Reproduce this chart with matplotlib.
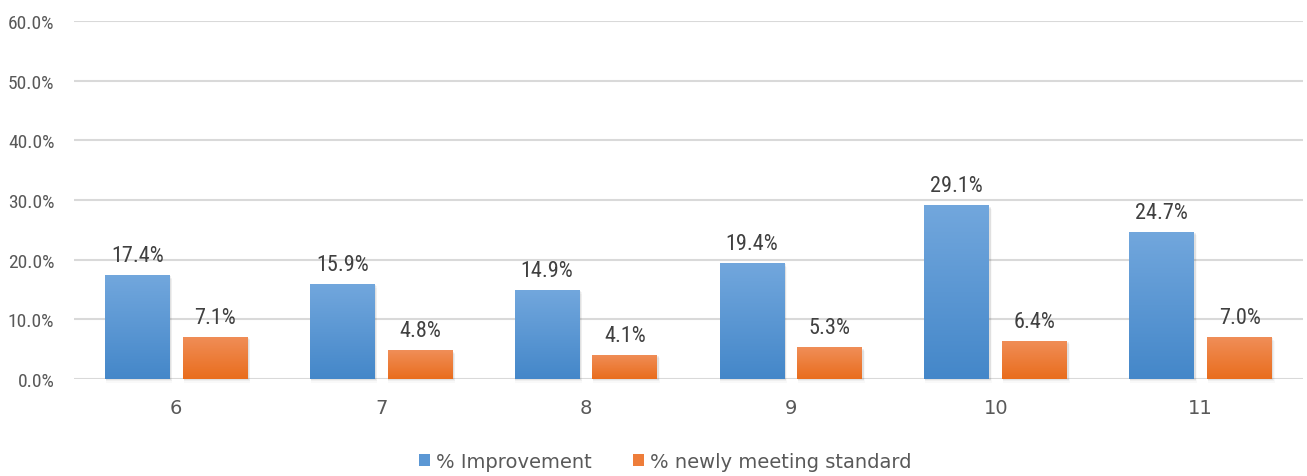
import numpy as np
import matplotlib
matplotlib.use('Agg')
import matplotlib.pyplot as plt
from matplotlib import font_manager
from matplotlib.colors import LinearSegmentedColormap
from matplotlib.patches import Rectangle
from matplotlib.ticker import FuncFormatter

grades = ["6", "7", "8", "9", "10", "11"]
improvement = [17.4, 15.9, 14.9, 19.4, 29.1, 24.7]
newly_meeting = [7.1, 4.8, 4.1, 5.3, 6.4, 7.0]
series_names = ["% Improvement", "% newly meeting standard"]

# narrow face for numbers, if one is installed
installed = {f.name for f in font_manager.fontManager.ttflist}
narrow = "DejaVu Sans"
for cand in ["Liberation Sans Narrow", "Roboto Condensed", "Open Sans Condensed", "DejaVu Sans Condensed"]:
    if cand in installed:
        narrow = cand
        break
NUM_FONT = dict(family=[narrow, "DejaVu Sans"], stretch="condensed")

BLUE_TOP, BLUE_BOT = "#72a7dd", "#4487c9"
ORANGE_TOP, ORANGE_BOT = "#f08e58", "#e96d1d"


def gradient_bars(ax, bars, top, bottom):
    cmap = LinearSegmentedColormap.from_list("g", [bottom, top])
    grad = np.linspace(0, 1, 256).reshape(-1, 1)
    for b in bars:
        x, y = b.get_x(), b.get_y()
        w, h = b.get_width(), b.get_height()
        # faint drop shadow, offset down and right
        for k, a in enumerate([0.06, 0.04, 0.025]):
            d = 0.003 * (k + 1)
            ax.add_patch(Rectangle((x + 0.004, y - 0.2 * (k + 1)), w + d, h,
                                   facecolor="#000000", alpha=a, edgecolor="none",
                                   zorder=2, clip_on=False))
        im = ax.imshow(grad, extent=(x, x + w, y, y + h), origin="lower",
                       cmap=cmap, aspect="auto", zorder=3)
        im.set_clip_path(b)
        b.set_facecolor("none")


fig = plt.figure(figsize=(13.07, 4.77), dpi=100)
ax = fig.add_axes([0.0565, 0.2034, 0.9405, 0.7506])

x = np.arange(len(grades))
w = 0.317
b1 = ax.bar(x - 0.19, improvement, w, color=BLUE_BOT, zorder=3, linewidth=0)
b2 = ax.bar(x + 0.19, newly_meeting, w, color=ORANGE_BOT, zorder=3, linewidth=0)
gradient_bars(ax, b1, BLUE_TOP, BLUE_BOT)
gradient_bars(ax, b2, ORANGE_TOP, ORANGE_BOT)

for bars, vals in [(b1, improvement), (b2, newly_meeting)]:
    for b, v in zip(bars, vals):
        ax.annotate(f"{v:.1f}%", (b.get_x() + b.get_width() / 2, v), xytext=(0, 10),
                    textcoords="offset points", ha="center", va="baseline",
                    fontsize=16, color="#404040", **NUM_FONT)

ax.set_xlim(-0.5, len(grades) - 0.5)
ax.set_ylim(0, 60)
ax.set_yticks(np.arange(0, 61, 10))
ax.yaxis.set_major_formatter(FuncFormatter(lambda v, _: f"{v:.1f}%"))
ax.set_xticks(x)
ax.set_xticklabels(grades)
ax.grid(axis="y", color="#d9d9d9", linewidth=1.5, zorder=0)
ax.set_axisbelow(True)
for s in ax.spines.values():
    s.set_visible(False)
ax.tick_params(length=0)
ax.tick_params(axis="y", pad=14, labelcolor="#595959")
ax.tick_params(axis="x", pad=14, labelcolor="#595959", labelsize=14)
for lab in ax.get_yticklabels():
    lab.set_fontsize(14)
    lab.set_family(NUM_FONT["family"])
    lab.set_stretch("condensed")

handles = [Rectangle((0, 0), 1, 1, facecolor="#5b97d4"), Rectangle((0, 0), 1, 1, facecolor="#ee7d3a")]
fig.legend(handles, series_names, loc="center", bbox_to_anchor=(0.509, 0.03), ncol=2,
           frameon=False, fontsize=14, labelcolor="#595959", handlelength=0.55,
           handleheight=0.55, handletextpad=0.3, columnspacing=2.15)

fig.savefig("out.png", dpi=100)
